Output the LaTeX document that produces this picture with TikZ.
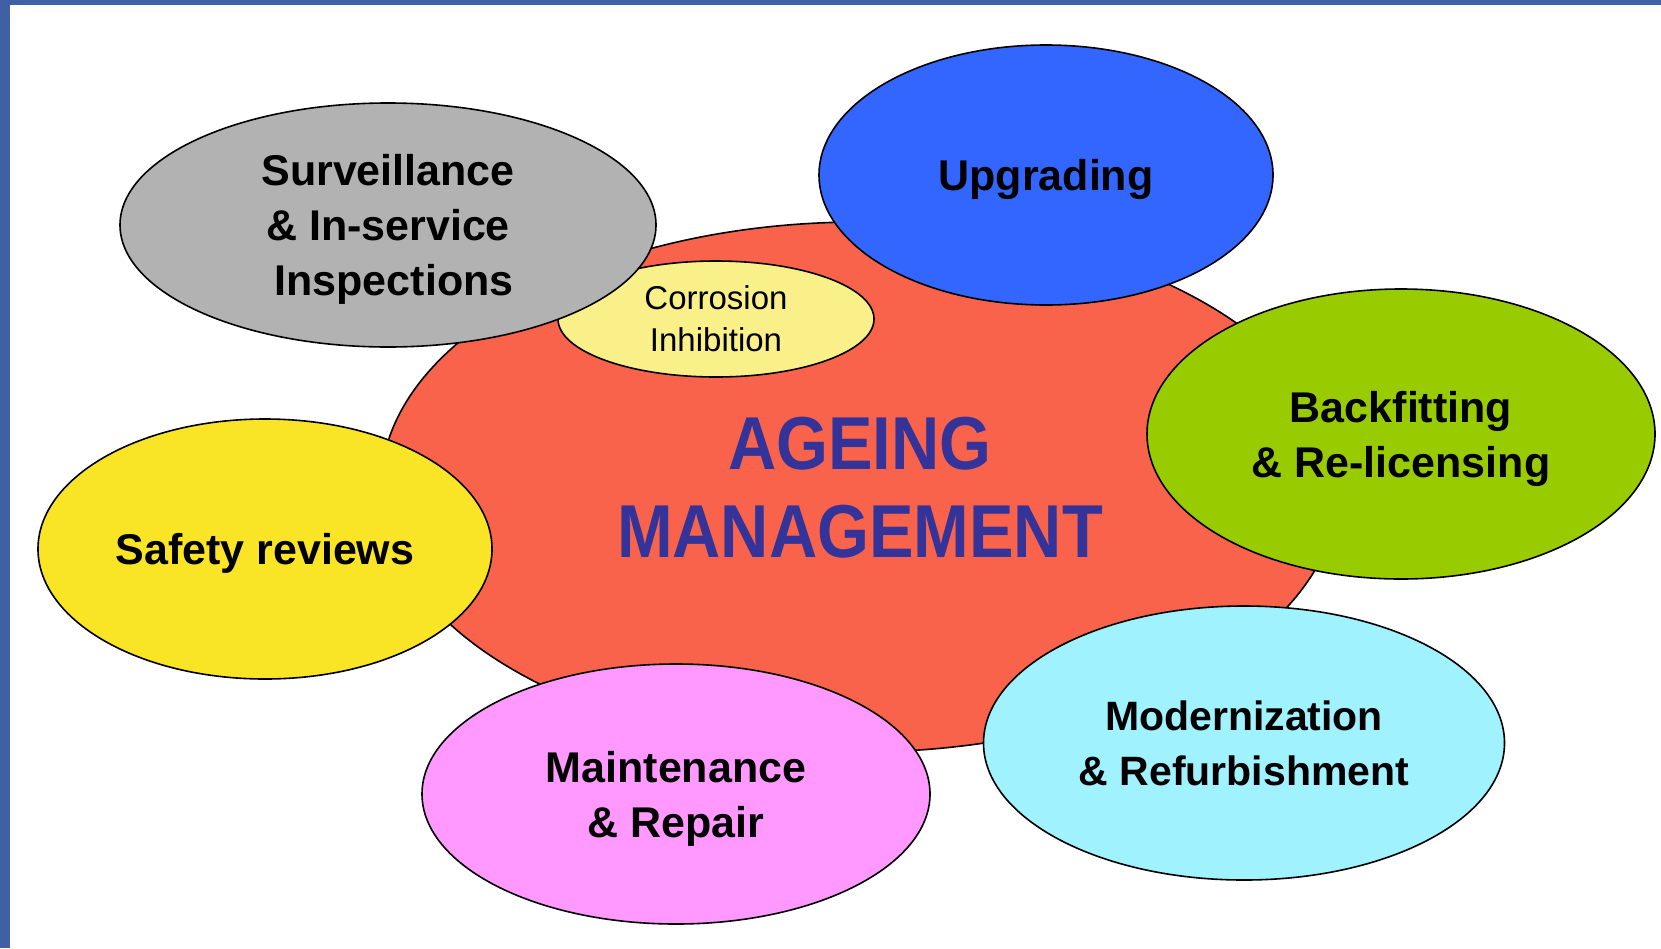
\documentclass[tikz,border=0pt]{standalone}
\usepackage{fontspec}
\usetikzlibrary{shapes.geometric}
\newfontfamily\labelfont{Liberation Sans}
\newfontfamily\titlefont{Liberation Sans}[FakeStretch=0.89]
\definecolor{frameblue}{RGB}{65,95,165}
\definecolor{agered}{RGB}{250,99,75}
\definecolor{titleblue}{RGB}{51,51,153}
\definecolor{survgray}{RGB}{178,178,178}
\definecolor{upblue}{RGB}{51,102,255}
\definecolor{corryellow}{RGB}{250,240,138}
\definecolor{backgreen}{RGB}{153,204,0}
\definecolor{safeyellow}{RGB}{249,229,38}
\definecolor{maintpink}{RGB}{255,153,255}
\definecolor{modcyan}{RGB}{160,242,255}

\begin{document}
\begin{tikzpicture}[x=1pt, y=-1pt,
    bubble/.style={draw, ellipse, line width=1.6pt, inner sep=0pt, align=center, text depth=0pt,
        font=\labelfont\bfseries\fontsize{43}{55}\selectfont}]
    \useasboundingbox (0,0) rectangle (1661,948);
    % frame strips on the top and left
    \fill[frameblue] (0,0) rectangle (1661,5);
    \fill[frameblue] (0,0) rectangle (10,948);

    \node[bubble, fill=agered, minimum width=958pt, minimum height=530pt, text=titleblue,
        font=\titlefont\bfseries\fontsize{75}{88}\selectfont] (ageing) at (860,487) {AGEING\\MANAGEMENT};
    \node[bubble, fill=corryellow, minimum width=316pt, minimum height=116pt,
        font=\labelfont\fontsize{33}{42}\selectfont] (corrosion) at (716,319) {Corrosion\\Inhibition};
    \node[bubble, fill=survgray, minimum width=536pt, minimum height=244pt] (surveillance) at (388,225)
        {Surveillance\\\& In-service\\\ Inspections};
    \node[bubble, fill=upblue, minimum width=454pt, minimum height=260pt] (upgrading) at (1046,175) {Upgrading};
    \node[bubble, fill=backgreen, minimum width=508pt, minimum height=290pt] (backfitting) at (1401,434)
        {Backfitting\\\& Re-licensing};
    \node[bubble, fill=safeyellow, minimum width=454pt, minimum height=260pt] (safety) at (265,549) {Safety reviews};
    \node[bubble, fill=maintpink, minimum width=508pt, minimum height=260pt] (maintenance) at (676,794)
        {Maintenance\\\& Repair};
    \node[bubble, fill=modcyan, minimum width=521pt, minimum height=274pt,
        font=\labelfont\bfseries\fontsize{41}{55}\selectfont] (modernization) at (1244,743)
        {Modernization\\\& Refurbishment};
\end{tikzpicture}
\end{document}
